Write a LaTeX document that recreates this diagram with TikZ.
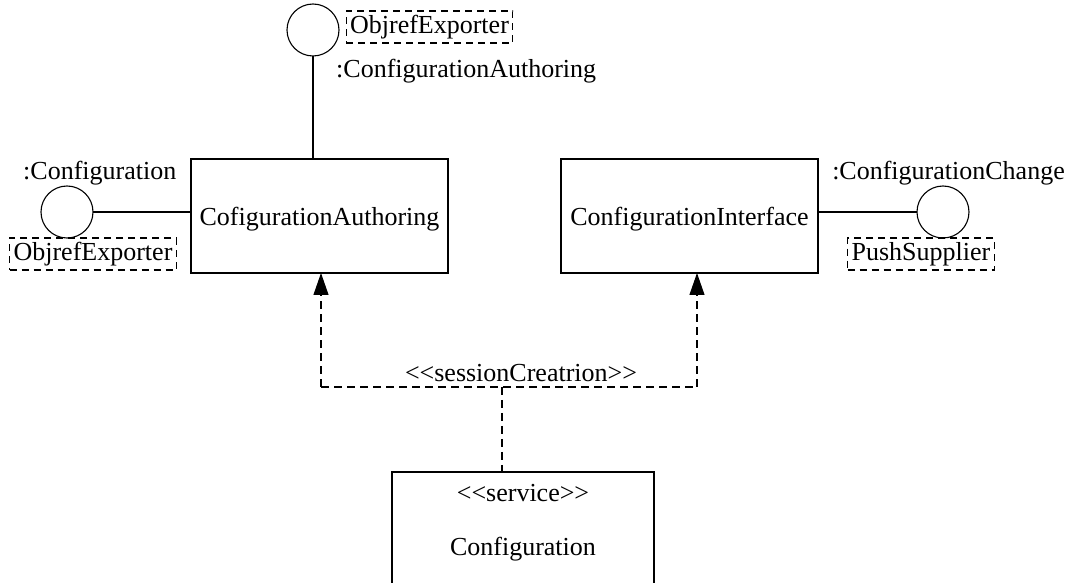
\documentclass[tikz,border=0pt]{standalone}
\usepackage{fontspec}
\setmainfont{Liberation Serif}[Ligatures=TeXOff]
\usepackage{tikz}
\usetikzlibrary{arrows.meta,shapes}
\usetikzlibrary{positioning}
\usetikzlibrary{calc}
\tikzset{
    compbox/.style={draw=black, rectangle, minimum width=128.5pt, minimum height=57pt, inner sep=0pt, outer sep=0pt, text depth=0pt},
    ball/.style={draw=black, circle, minimum size=26pt, inner sep=0pt, outer sep=0pt},
    tagbox/.style={draw=black, dash pattern=on 3.5pt off 2.5pt, rectangle, minimum height=16pt, inner sep=2pt, outer sep=0pt},
    wire/.style={draw=black},
    dep/.style={draw=black, dash pattern=on 4pt off 2.5pt},
    deparrow/.style={draw=black, dash pattern=on 4pt off 2.5pt, -{Triangle[length=11pt,width=7.5pt]}},
}

\begin{document}
\begin{tikzpicture}[line width=0.55pt, x=0.5pt, y=-0.5pt, font=\fontsize{13pt}{15pt}\selectfont]
	\clip (0,0) rectangle (1084,583);
	% components
	\node[compbox] (authoring) at (319.5,216) {CofigurationAuthoring};
	\node[compbox] (iface) at (689.5,216) {ConfigurationInterface};
	\node[compbox, minimum width=131pt, minimum height=70pt, anchor=north] (service) at (523,472) {};
	\node[anchor=base] (servicetag) at (523,502) {<<service>>};
	\node[anchor=base] (servicename) at (523,555) {Configuration};
	% provided interfaces
	\node[ball] (topball) at (313,30) {};
	\node[tagbox] (toptag) at (429.5,27) {ObjrefExporter};
	\node[anchor=base west] (toplbl) at (329,78) {:ConfigurationAuthoring};
	\node[ball] (leftball) at (67,212) {};
	\node[anchor=base west] (leftlbl) at (16,180) {:Configuration};
	\node[tagbox] (lefttag) at (93,254) {ObjrefExporter};
	\node[ball] (rightball) at (943,212) {};
	\node[anchor=base east] (rightlbl) at (1072,180) {:ConfigurationChange};
	\node[tagbox] (righttag) at (921,254) {PushSupplier};
	\draw[wire] (topball.south) -- (topball.south |- authoring.north);
	\draw[wire] (leftball.east) -- (leftball.east -| authoring.west);
	\draw[wire] (iface.east |- rightball.west) -- (rightball.west);
	% dependencies
	\coordinate (jl) at (321,387);
	\coordinate (jr) at (697,387);
	\coordinate (jm) at (502,387);
	\draw[deparrow] (jl) -- (jl |- authoring.south);
	\draw[deparrow] (jr) -- (jr |- iface.south);
	\draw[dep] (jl) -- (jr);
	\draw[dep] (jm) -- (jm |- service.north);
	\node[anchor=base] (deplbl) at (521,382) {<<sessionCreatrion>>};
\end{tikzpicture}
\end{document}
